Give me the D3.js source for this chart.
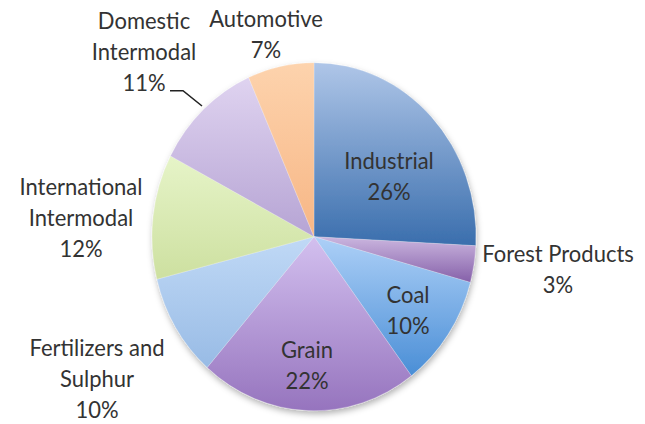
<!DOCTYPE html>
<html>
<head>
<meta charset="utf-8">
<script src="https://cdn.jsdelivr.net/npm/d3@7"></script>
<style>
html,body{margin:0;padding:0;background:#fff;}
svg{display:block;}
</style>
</head>
<body>
<svg id="chart" width="645" height="424"></svg>
<script>
// ---- data ----
const categories = ["Industrial","Forest Products","Coal","Grain","Fertilizers and Sulphur","International Intermodal","Domestic Intermodal","Automotive"];
// underlying shares (labels show rounded %)
const shares = [25.8, 3.4, 10.5, 21.7, 9.6, 11.6, 10.7, 6.6];
const labelLines = [
  ["Industrial","26%"],
  ["Forest Products","3%"],
  ["Coal","10%"],
  ["Grain","22%"],
  ["Fertilizers and","Sulphur","10%"],
  ["International","Intermodal","12%"],
  ["Domestic","Intermodal","11%"],
  ["Automotive","7%"]
];
const colorTop    = ["#afc6e8","#cbb6df","#add0f7","#d3c0ef","#c0d9f6","#e6f4c8","#dfd3f0","#fdd3ad"];
const colorBottom = ["#3a6ead","#8560a9","#4a8ed6","#9674be","#98bbe5","#cde0a0","#b6a4d4","#f7b685"];

// ---- layout ----
const cx = 314, cy = 236.7, R = 162, sy = 174/162;
const labelPos = [[389,176],[558,269],[408,310],[307,365],[97,379],[81,218],[144,52],[266,34]];
const lineGap = 31;

const svg = d3.select("#chart");
const defs = svg.append("defs");
categories.forEach((c,i)=>{
  const g = defs.append("linearGradient").attr("id","g"+i)
    .attr("x1",0).attr("y1",0).attr("x2",0).attr("y2",1);
  g.append("stop").attr("offset","0%").attr("stop-color",colorTop[i]);
  g.append("stop").attr("offset","100%").attr("stop-color",colorBottom[i]);
});
const f = defs.append("filter").attr("id","shadow").attr("x","-20%").attr("y","-20%").attr("width","140%").attr("height","140%");
f.append("feDropShadow").attr("dx",1).attr("dy",3).attr("stdDeviation",3).attr("flood-color","#000").attr("flood-opacity",0.3);

const pie = d3.pie().sort(null).value(d=>d)(shares);
const arc = d3.arc().innerRadius(0).outerRadius(R);

const g = svg.append("g").attr("transform",`translate(${cx},${cy}) scale(1,${sy})`);
const slices = g.append("g").attr("filter","url(#shadow)");
slices.selectAll("path").data(pie).join("path")
  .attr("d",arc)
  .attr("fill",(d,i)=>`url(#g${i})`)
  .attr("stroke","rgba(255,255,255,0.35)")
  .attr("stroke-width",0.6);

// leader line for Domestic Intermodal
svg.append("path")
  .attr("d",`M170,90.7 L183,90.7 L202,106`)
  .attr("fill","none").attr("stroke","#222").attr("stroke-width",1.6);

// labels
const lab = svg.append("g").attr("font-family","Lato, 'Open Sans', sans-serif")
  .attr("font-size",22).attr("fill","#333").attr("text-anchor","middle");
labelLines.forEach((lines,i)=>{
  const [x,y] = labelPos[i];
  const n = lines.length;
  lines.forEach((t,k)=>{
    const ly = y + (k-(n-1)/2)*lineGap;
    lab.append("text")
      .attr("transform",`translate(${x},${ly}) scale(1,${sy})`)
      .attr("dy","0.35em")
      .text(t);
  });
});
</script>
</body>
</html>
